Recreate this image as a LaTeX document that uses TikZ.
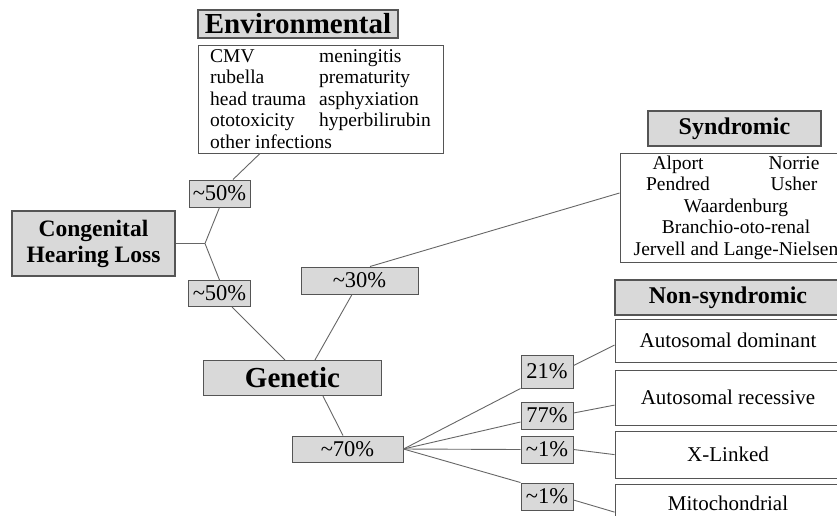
\documentclass[tikz,border=0pt]{standalone}
\usepackage{fontspec}
\setmainfont{Liberation Serif}
\usetikzlibrary{positioning}
\definecolor{boxgray}{HTML}{D9D9D9}
\definecolor{framegray}{HTML}{555555}
\definecolor{wiregray}{HTML}{666666}

\begin{document}
\begin{tikzpicture}[x=1pt, y=-1pt]
\tikzstyle{headBox} = [rectangle, draw=framegray, fill=boxgray, line width=1.2pt, inner sep=0pt, text centered]
\tikzstyle{pctBox} = [rectangle, draw=framegray, fill=boxgray, line width=1pt, inner sep=0pt, text centered, font=\fontsize{22.5}{24}\selectfont]
\tikzstyle{listBox} = [rectangle, draw=framegray, fill=white, line width=1pt, inner sep=0pt, font=\fontsize{19.5}{21.5}\selectfont]
\tikzstyle{typeBox} = [rectangle, draw=framegray, fill=white, line width=1pt, minimum width=226pt, inner sep=0pt, text centered, font=\fontsize{21}{24}\selectfont]
\tikzstyle{wire} = [draw=wiregray, line width=0.9pt]

\useasboundingbox (0,0) rectangle (837,515);
\clip (0,0) rectangle (837,515);

% environmental branch
\node (envTitle) [headBox, minimum width=200pt, minimum height=28pt, font=\bfseries\fontsize{29}{30}\selectfont] at (298,24) {Environmental};
\node (envList) [listBox, minimum width=245pt, minimum height=108pt, align=left] at (320.5,99)
  {\makebox[109pt][l]{CMV}meningitis\\
   \makebox[109pt][l]{rubella}prematurity\\
   \makebox[109pt][l]{head trauma}asphyxiation\\
   \makebox[109pt][l]{ototoxicity}hyperbilirubin\\
   other infections};

\node (chl) [headBox, minimum width=163pt, minimum height=65pt, align=center, font=\bfseries\fontsize{23.5}{26}\selectfont] at (93.5,243.5) {Congenital\\Hearing Loss};
\node (p50a) [pctBox, minimum width=61pt, minimum height=27pt] at (219.5,193.5) {\textasciitilde50\%};
\node (p50b) [pctBox, minimum width=62pt, minimum height=26pt] at (219.5,293.5) {\textasciitilde50\%};

% genetic branch
\node (genetic) [headBox, minimum width=178pt, minimum height=35pt, font=\bfseries\fontsize{29}{31}\selectfont] at (292.5,378) {Genetic};
\node (p30) [pctBox, minimum width=117pt, minimum height=27pt] at (359.5,280.5) {\textasciitilde30\%};
\node (p70) [pctBox, minimum width=111pt, minimum height=26pt] at (347.5,449) {\textasciitilde70\%};

\node (synTitle) [headBox, minimum width=173pt, minimum height=35pt, font=\bfseries\fontsize{24}{26}\selectfont] at (734.5,128.5) {Syndromic};
\node (synList) [listBox, minimum width=226pt, minimum height=109pt, align=center] at (736,207.5)
  {\makebox[116pt]{Alport}\makebox[116pt]{Norrie}\\
   \makebox[116pt]{Pendred}\makebox[116pt]{Usher}\\
   Waardenburg\\
   Branchio-oto-renal\\
   Jervell and Lange-Nielsen};

\node (nsTitle) [headBox, minimum width=226pt, minimum height=35pt, font=\bfseries\fontsize{24}{26}\selectfont] at (728,297.5) {Non-syndromic};
\node (ad) [typeBox, minimum height=43pt, below=3pt of nsTitle] {Autosomal dominant};
\node (ar) [typeBox, minimum height=55pt, below=7pt of ad] {Autosomal recessive};
\node (xl) [typeBox, minimum height=47pt, below=5pt of ar] {X-Linked};
\node (mi) [typeBox, minimum height=38pt, below=5pt of xl] {Mitochondrial};

\node (pct21) [pctBox, minimum width=52pt, minimum height=33pt] at (547,371.5) {21\%};
\node (pct77) [pctBox, minimum width=52pt, minimum height=27pt] at (547,415.5) {77\%};
\node (pct1a) [pctBox, minimum width=52pt, minimum height=27pt] at (547,449.5) {\textasciitilde1\%};
\node (pct1b) [pctBox, minimum width=52pt, minimum height=27pt] at (547,496.5) {\textasciitilde1\%};

% connectors
\coordinate (fork) at (205,243.5);
\draw [wire] (chl.east) -- (fork);
\draw [wire] (fork) -- (p50a.south);
\draw [wire] (fork) -- (p50b.north);
\draw [wire] ([xshift=13.5pt]p50a.north) -- ([xshift=-60.5pt]envList.south);
\draw [wire] ([xshift=12.5pt]p50b.south) -- ([xshift=-7.5pt]genetic.north);
\draw [wire] ([xshift=-7.5pt]p30.south) -- ([xshift=22.5pt]genetic.north);
\draw [wire] ([xshift=10.5pt]p30.north) -- ([yshift=14.5pt]synList.west);
\draw [wire] ([xshift=30.5pt]genetic.south) -- ([xshift=-4.5pt]p70.north);

\draw [wire] (p70.east) -- (pct21.south west);
\draw [wire] (p70.east) -- ([yshift=-6.5pt]pct77.west);
\draw [wire] (p70.east) -- (pct1a.west);
\draw [wire] (p70.east) -- (pct1b.north west);
\draw [wire] ([yshift=6pt]pct21.east) -- ([yshift=-4.5pt]ad.west);
\draw [wire] ([yshift=2.5pt]pct77.east) -- ([yshift=-7.5pt]ar.west);
\draw [wire] (pct1a.east) -- (xl.west);
\draw [wire] ([yshift=-3.5pt]pct1b.east) -- ([yshift=-9pt]mi.west);

\end{tikzpicture}
\end{document}
